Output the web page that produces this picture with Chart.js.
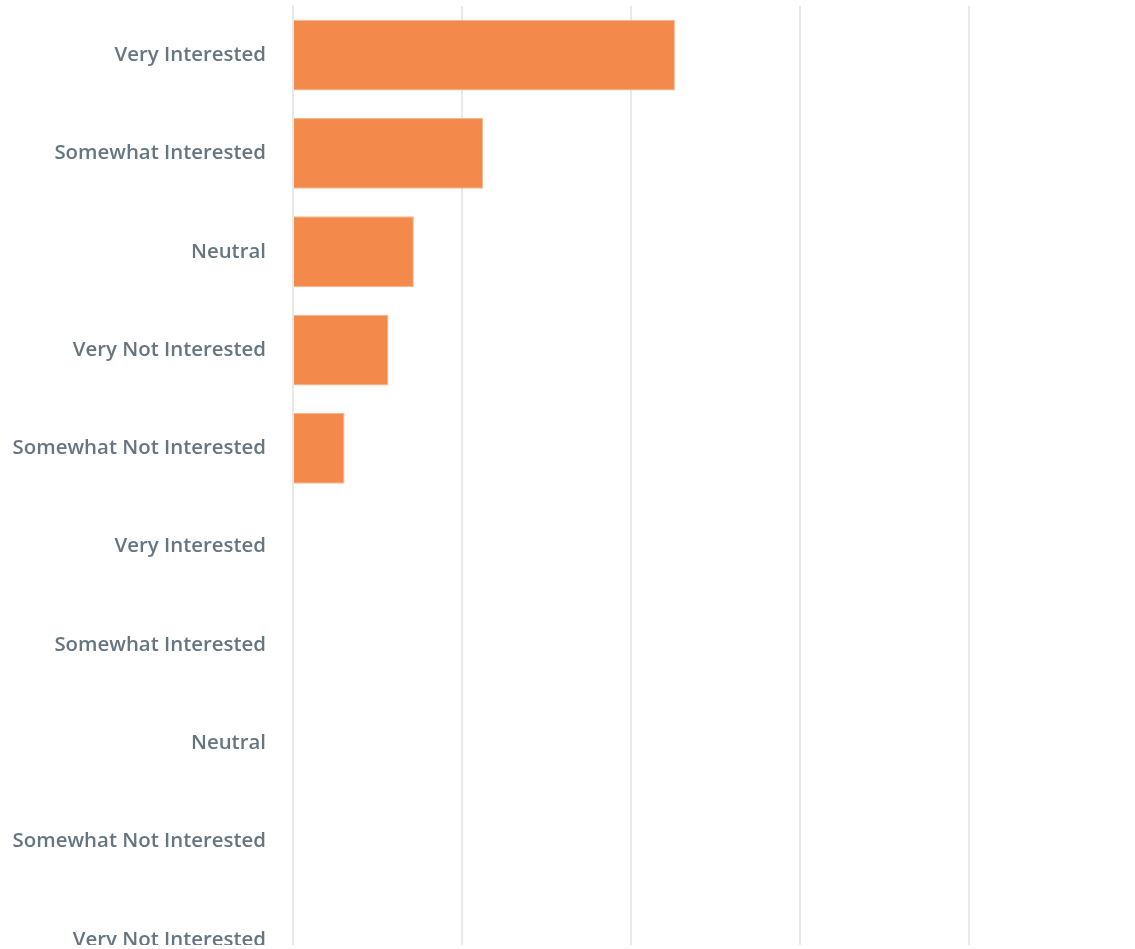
<!DOCTYPE html>
<html>
<head>
<meta charset="utf-8">
<script src="https://cdn.jsdelivr.net/npm/chart.js@4/dist/chart.umd.min.js"></script>
<style>
  html, body { margin: 0; padding: 0; background: #ffffff; overflow: hidden; }
  #wrap { width: 1135px; height: 945px; overflow: hidden; position: relative; }
  #chart { position: absolute; left: 0; top: 0; }
</style>
</head>
<body>
<div id="wrap"><canvas id="chart" width="1140" height="1000"></canvas></div>
<script>
// Answer options (the list repeats for the second group of rows)
const categories = [
  "Very Interested",
  "Somewhat Interested",
  "Neutral",
  "Very Not Interested",
  "Somewhat Not Interested",
  "Very Interested",
  "Somewhat Interested",
  "Neutral",
  "Somewhat Not Interested",
  "Very Not Interested"
];

// Share of responses (%) per option
const responses = [22.6, 11.25, 7.15, 5.65, 3.05, 0, 0, 0, 0, 0];

// Value axis range
const axisMin = 0;
const axisMax = 50;
const axisStep = 10;

const ctx = document.getElementById("chart").getContext("2d");
new Chart(ctx, {
  type: "bar",
  data: {
    labels: categories,
    datasets: [{
      data: responses,
      backgroundColor: "#f3894a",
      borderColor: "#f7b690",
      borderWidth: 1,
      borderSkipped: "left",
      barPercentage: 0.9,
      categoryPercentage: 0.8
    }]
  },
  options: {
    indexAxis: "y",
    responsive: false,
    maintainAspectRatio: false,
    animation: false,
    layout: { padding: { top: 6, right: 2, bottom: 11, left: 0 } },
    plugins: {
      legend: { display: false },
      tooltip: { enabled: false }
    },
    scales: {
      x: {
        min: axisMin,
        max: axisMax,
        afterFit: (scale) => { scale.height = 0; },
        ticks: { display: false, stepSize: axisStep },
        grid: { color: "#e8e8e8", lineWidth: 2, drawTicks: false },
        border: { display: false }
      },
      y: {
        afterFit: (scale) => {
          scale.width = 293;
          scale.paddingTop = 0;
          scale.paddingBottom = 0;
        },
        ticks: {
          color: "#66757f",
          padding: 27,
          font: { family: "'Open Sans', 'Noto Sans', sans-serif", size: 20.4, weight: "600" }
        },
        grid: { display: false, drawTicks: false },
        border: { display: true, color: "#e8e8e8", width: 2 }
      }
    }
  }
});
</script>
</body>
</html>
